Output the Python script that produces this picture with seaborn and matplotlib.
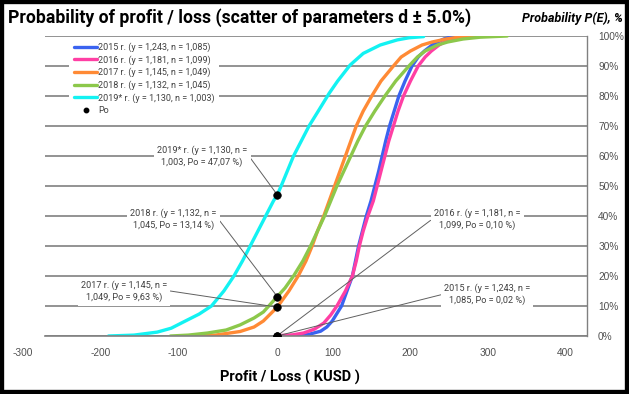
import matplotlib
matplotlib.use("Agg")
import matplotlib.pyplot as plt
import matplotlib.transforms as mtrans
from matplotlib.lines import Line2D
from matplotlib.patches import Rectangle
import seaborn as sns
import pandas as pd

# ---------------- data ----------------
series_names = ["2015 r. (y = 1,243, n = 1,085)",
                "2016 r. (y = 1,181, n = 1,099)",
                "2017 r. (y = 1,145, n = 1,049)",
                "2018 r. (y = 1,132, n = 1,045)",
                "2019* r. (y = 1,130, n = 1,003)"]
series_colors = ["#3a63f0", "#ff3fa4", "#ff8a35", "#8cc84b", "#13f2f2"]

x_2015 = [0, 20, 40, 56, 64, 71, 83, 90, 97, 101, 105, 110, 115, 121, 126, 131, 135.5,
          140, 145, 151, 157, 165, 174, 182, 190, 200, 207, 215, 223, 232]
p_2015 = [0, 0.1, 0.5, 1.6, 3, 5, 10, 15, 20, 25, 30, 35, 40, 45, 50, 55, 60,
          65, 70, 75, 80, 85, 90, 93, 95, 97, 98, 99, 99.6, 100]

x_2016 = [0, 20, 34, 48, 60, 69, 77, 88, 97, 102, 106, 111, 117, 124, 129, 134, 139,
          144, 150, 156, 163, 172, 182, 191, 199, 209, 216, 226, 236, 249]
p_2016 = [0.1, 0.4, 1, 2.3, 4.3, 7, 10, 15, 20, 25, 30, 35, 40, 45, 50, 55, 60,
          65, 70, 75, 80, 85, 90, 93, 95, 97, 98, 99, 99.6, 100]

x_2017 = [-108, -80, -48, -30, -18, 0, 15, 27, 37, 45, 52, 60, 67, 74, 81, 88,
          95, 102, 111, 122, 134, 150, 160, 172, 187, 200, 218, 234, 254]
p_2017 = [0, 0.3, 1.5, 3, 5, 9.63, 15, 20, 25, 30, 35, 40, 45, 50, 55, 60,
          65, 70, 75, 80, 85, 90, 93, 95, 97, 98, 99, 99.6, 100]

x_2018 = [-138, -115, -90, -66, -48, -30, -18, 0, 10, 21, 33, 43, 52, 61, 69, 77,
          86, 95, 104, 114, 126, 139, 153, 170, 181, 191, 207, 220, 240, 262, 297]
p_2018 = [0, 0.3, 1, 2, 3.7, 6, 8, 13.14, 16, 20, 25, 30, 35, 40, 45, 50,
          55, 60, 65, 70, 75, 80, 85, 90, 93, 95, 97, 98, 99, 99.6, 100]

x_2019 = [-218, -185, -155, -137, -121, -101, -85, -69, -56, -45, -35, -25, -15, -5, 0,
          5, 13, 21, 31, 41, 53, 67, 78, 94, 111, 133, 155, 170, 189]
p_2019 = [0, 0.3, 1.3, 2.6, 4.7, 7.3, 10, 15, 20, 25, 30, 35, 40, 45, 47.07,
          50, 55, 60, 65, 70, 75, 80.9, 85, 90.3, 94.2, 97, 98.7, 99.4, 99.8]

po_x = [0, 0, 0, 0, 0]
po_values = [0.02, 0.10, 9.63, 13.14, 47.07]
po_texts = ["2015 r. (y = 1,243, n =\n1,085, Po = 0,02 %)",
            "2016 r. (y = 1,181, n =\n1,099, Po = 0,10 %)",
            "2017 r. (y = 1,145, n =\n1,049, Po = 9,63 %)",
            "2018 r. (y = 1,132, n =\n1,045, Po = 13,14 %)",
            "2019* r. (y = 1,130, n =\n1,003, Po = 47,07 %)"]

x_ticks = [-300, -200, -100, 0, 100, 200, 300, 400]
y_ticks = [0, 10, 20, 30, 40, 50, 60, 70, 80, 90, 100]

# ---------------- styling ----------------
sns.set_theme(style="white")
plt.rcParams["font.family"] = ["Roboto", "DejaVu Sans"]

fig = plt.figure(figsize=(6.29, 3.94), dpi=100)
ax = fig.add_axes([45 / 629, 58 / 394, 542 / 629, 300 / 394])

curves = [(x_2015, p_2015), (x_2016, p_2016), (x_2017, p_2017),
          (x_2018, p_2018), (x_2019, p_2019)]
for (xs, ps), col in zip(curves, series_colors):
    df = pd.DataFrame({"x": xs, "p": ps})
    sns.lineplot(data=df, x="x", y="p", color=col, lw=2.4, sort=False,
                 ax=ax, zorder=2)

# annotation text centres (data coords) and leader start (relpos)
ann_pos = [((271, 14.0), (0.0, 0.5)),
           ((258, 39.0), (0.0, 0.55)),
           ((-198, 14.8), (1.0, 0.55)),
           ((-134, 39.0), (1.0, 0.6)),
           ((-97, 60.0), (1.0, 0.6))]
for txt, po, ((tx, ty), rp) in zip(po_texts, po_values, ann_pos):
    ax.annotate(txt, xy=(0, po), xytext=(tx, ty), textcoords="data",
                ha="center", va="center", fontsize=6.6, color="#404040",
                linespacing=1.3,
                bbox=dict(boxstyle="square,pad=0.35", fc="white", ec="none"),
                arrowprops=dict(arrowstyle="-", color="#606060", lw=0.7,
                                relpos=rp, shrinkA=0, shrinkB=0),
                zorder=4)

sns.scatterplot(x=po_x, y=po_values, color="black", s=30, edgecolor="black",
                ax=ax, zorder=6, legend=False)

ax.set_xlim(-300, 400)
ax.set_ylim(0, 100)
ax.set_xlabel("")
ax.set_ylabel("")
ax.yaxis.tick_right()
ax.set_yticks(y_ticks)
ax.set_yticklabels([f"{v}%" for v in y_ticks], family="Liberation Sans",
                   fontsize=7.3, color="#505050")
ax.set_xticks(x_ticks)
ax.set_xticklabels([str(v) for v in x_ticks], family="Liberation Sans",
                   fontsize=7.3, color="#505050")
ax.tick_params(axis="both", length=0)
ax.tick_params(axis="y", pad=8)
ax.tick_params(axis="x", pad=9)
ax.grid(axis="y", color="#808080", lw=1.2)
ax.set_axisbelow(True)
for side in ["left", "top"]:
    ax.spines[side].set_visible(False)
ax.spines["right"].set_color("#808080")
ax.spines["right"].set_linewidth(1.0)
ax.spines["bottom"].set_color("#808080")
ax.spines["bottom"].set_linewidth(1.2)

# legend
handles = [Line2D([0], [0], color=c, lw=2.4) for c in series_colors]
handles.append(Line2D([0], [0], color="black", marker="o", ls="none", ms=3.2))
leg = ax.legend(handles, series_names + ["Po"], loc="upper left",
                bbox_to_anchor=(0.045, 0.995), frameon=True, facecolor="white",
                edgecolor="none", framealpha=1, fancybox=False, fontsize=6.5,
                handlelength=2.5, handletextpad=0.1, labelspacing=0.34,
                borderpad=0.55, borderaxespad=0, labelcolor="#404040")
leg.set_zorder(5)

# texts
fig.text(8 / 629, 1 - 18 / 394,
         "Probability of profit / loss (scatter of parameters d \u00b1 5.0%)",
         ha="left", va="center", fontsize=12.7, weight="bold", color="black")
fig.text(623 / 629, 1 - 18 / 394, "Probability P(E), %", ha="right",
         va="center", fontsize=9, weight="bold", style="italic", color="black")
fig.text(290 / 629, 1 - 377 / 394, "Profit / Loss ( KUSD )", ha="center",
         va="center", fontsize=10.5, weight="bold", color="black")

# outer black frame
fig.patches.append(Rectangle((0, 0), 1, 1, transform=fig.transFigure,
                             fill=False, ec="black", lw=6, zorder=10))

# x labels in the reference sit slightly left of their ticks (except 0)
fig.canvas.draw()
shift = mtrans.ScaledTranslation(-22 / 100, 0, fig.dpi_scale_trans)
for lbl in ax.get_xticklabels():
    if lbl.get_text() != "0":
        lbl.set_transform(lbl.get_transform() + shift)

fig.savefig("out.png", dpi=100)
